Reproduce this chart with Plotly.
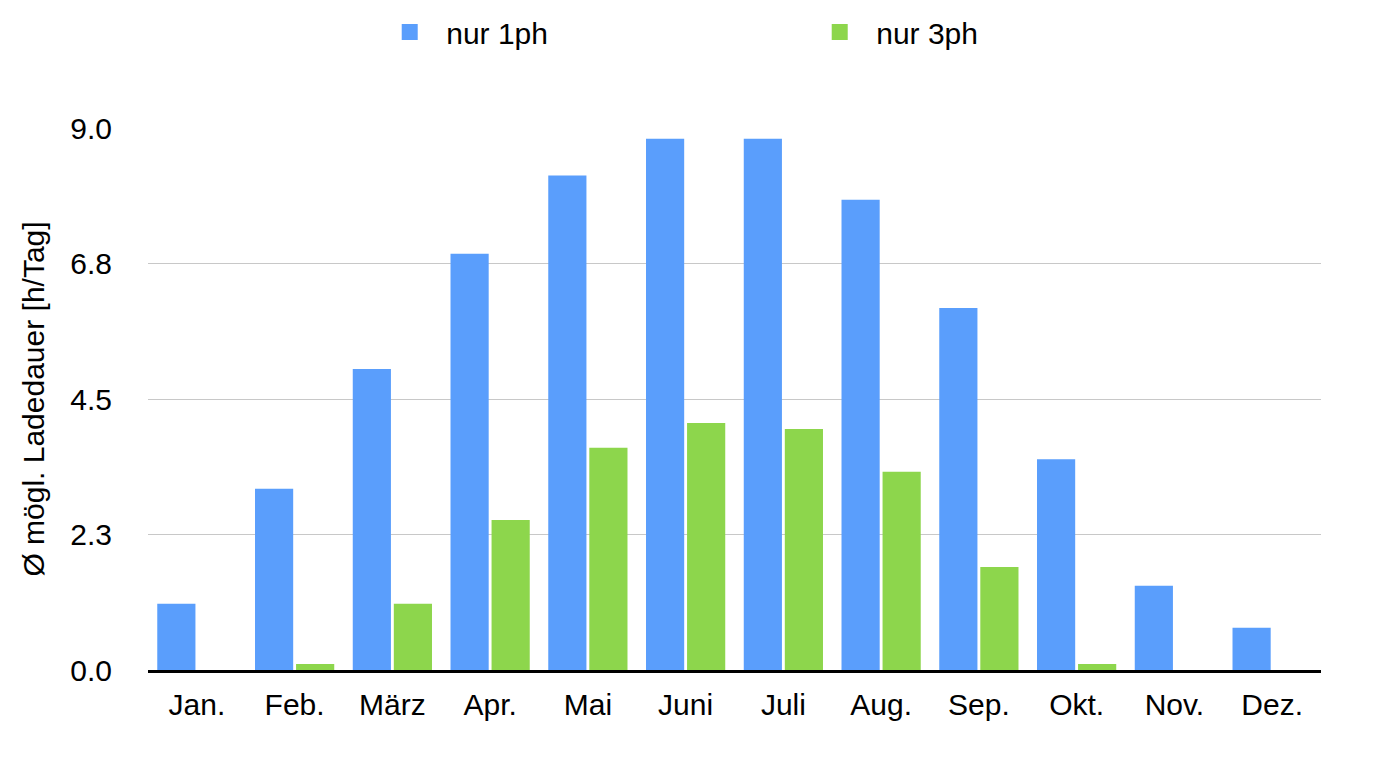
import plotly.graph_objects as go

months = ["Jan.", "Feb.", "März", "Apr.", "Mai", "Juni", "Juli", "Aug.", "Sep.", "Okt.", "Nov.", "Dez."]
nur_1ph = [1.10, 3.01, 5.00, 6.91, 8.21, 8.82, 8.82, 7.81, 6.01, 3.50, 1.40, 0.70]
nur_3ph = [0.0, 0.10, 1.10, 2.49, 3.69, 4.10, 4.00, 3.29, 1.71, 0.10, 0.0, 0.0]
y_tickvals = [0, 2.25, 4.5, 6.75, 9.0]
y_ticktext = ["0.0", "2.3", "4.5", "6.8", "9.0"]

BLUE = "#5A9EFC"
GREEN = "#8DD64C"
FONT = "Liberation Sans, Arial, Helvetica, sans-serif"
FS = 30

fig = go.Figure()
fig.add_trace(go.Bar(x=months, y=nur_1ph, name="nur 1ph", marker_color=BLUE,
                     marker_line_width=0, showlegend=False))
fig.add_trace(go.Bar(x=months, y=nur_3ph, name="nur 3ph", marker_color=GREEN,
                     marker_line_width=0, showlegend=False))
# legend entries with large square symbols
fig.add_trace(go.Scatter(x=[None], y=[None], mode="markers", name="nur 1ph",
                         marker=dict(symbol="square", size=22, color=BLUE)))
fig.add_trace(go.Scatter(x=[None], y=[None], mode="markers", name="nur 3ph",
                         marker=dict(symbol="square", size=22, color=GREEN)))

# page body has an 8px margin: compensate in size/margins
fig.update_layout(
    width=1371, height=771,
    paper_bgcolor="white", plot_bgcolor="white",
    margin=dict(l=140, r=58, t=120, b=109, autoexpand=False),
    font=dict(family=FONT, size=FS, color="black"),
    barmode="group", bargap=0.16, bargroupgap=0.07,
    legend=dict(orientation="h", x=0.192, xanchor="left", y=1.177, yref="paper",
                yanchor="middle", font=dict(size=FS), itemsizing="trace", itemwidth=63,
                entrywidth=352, entrywidthmode="pixels", bgcolor="rgba(0,0,0,0)"),
)
fig.update_xaxes(showgrid=False, showline=True, linecolor="black", linewidth=2.5,
                 ticks="", ticklabelstandoff=6, tickfont=dict(size=FS))
fig.update_yaxes(range=[0, 9], tickvals=y_tickvals, ticktext=y_ticktext,
                 showgrid=True, gridcolor="#c8c8c8", gridwidth=1, zeroline=False,
                 showline=False, ticks="", ticklabelstandoff=35, tickfont=dict(size=FS),
                 title=dict(text="Ø mögl. Ladedauer [h/Tag]", font=dict(size=FS), standoff=16))

fig.write_html("out.html")
